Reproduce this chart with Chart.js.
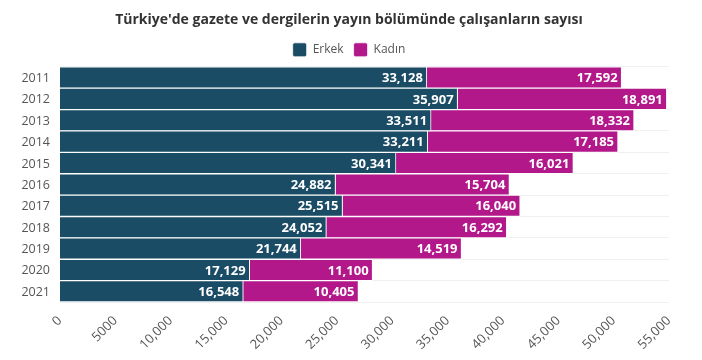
<!DOCTYPE html>
<html>
<head>
<meta charset="utf-8">
<script src="https://cdn.jsdelivr.net/npm/chart.js@4"></script>
<style>
  html, body { margin: 0; padding: 0; background: #fff; }
  #wrap { width: 702px; height: 360px; }
</style>
</head>
<body>
<div id="wrap"><canvas id="bar-chart"></canvas></div>
<script>
const years = ["2011","2012","2013","2014","2015","2016","2017","2018","2019","2020","2021"];
const erkek = [33128,35907,33511,33211,30341,24882,25515,24052,21744,17129,16548];
const kadin = [17592,18891,18332,17185,16021,15704,16040,16292,14519,11100,10405];
const xTicks = [0,5000,10000,15000,20000,25000,30000,35000,40000,45000,50000,55000];

const fmt = v => v >= 10000 ? v.toLocaleString("en-US") : String(v);

// etiketler: barin icinde, sag uca yakin + yil etiketleri
const barLabels = {
  id: "barLabels",
  afterDatasetsDraw(chart) {
    const ctx = chart.ctx;
    ctx.save();
    ctx.font = "bold 13px 'Open Sans'";
    ctx.fillStyle = "#fff";
    ctx.textAlign = "right";
    ctx.textBaseline = "middle";
    chart.data.datasets.forEach((ds, i) => {
      chart.getDatasetMeta(i).data.forEach((bar, j) => {
        ctx.fillText(ds.data[j].toLocaleString("en-US"), bar.x - 4, bar.y + 1);
      });
    });
    const y = chart.scales.y;
    ctx.font = "12.5px 'Open Sans'";
    ctx.fillStyle = "#555";
    years.forEach((yr, i) => {
      ctx.fillText(yr, chart.chartArea.left - 10, y.getPixelForTick(i) + 1);
    });
    ctx.restore();
  }
};

const contenedor = document.querySelector("#bar-chart").getContext("2d");

const barchart = new Chart(contenedor, {
  type: "bar",
  data: {
    labels: years,
    datasets: [
      { label: "Erkek", data: erkek, backgroundColor: "#1b4c65", borderColor: "#fff", borderWidth: {top:1,bottom:1,right:1}, borderSkipped: false },
      { label: "Kadın", data: kadin, backgroundColor: "#b3188a", borderColor: "#fff", borderWidth: {top:1,bottom:1,right:1}, borderSkipped: false }
    ]
  },
  options: {
    indexAxis: "y",
    responsive: true,
    maintainAspectRatio: false,
    animation: false,
    layout: { padding: { left: 29, right: 33, top: 4, bottom: 0 } },
    datasets: { bar: { barPercentage: 1, categoryPercentage: 1 } },
    plugins: {
      title: {
        display: true,
        text: "Türkiye'de gazete ve dergilerin yayın bölümünde çalışanların sayısı",
        color: "#333",
        font: { family: "'Open Sans'", size: 14, weight: "bold" },
        padding: { top: 8, bottom: 4 }
      },
      legend: {
        labels: {
          boxWidth: 14, boxHeight: 14, color: "#555",
          useBorderRadius: true, borderRadius: 2,
          font: { family: "'Open Sans'", size: 12 },
          padding: 10
        }
      },
      tooltip: { enabled: false }
    },
    scales: {
      x: {
        stacked: true,
        min: 0, max: 55000,
        afterBuildTicks: s => { s.ticks = xTicks.map(v => ({ value: v })); },
        ticks: {
          minRotation: 45, maxRotation: 45,
          color: "#555",
          font: { family: "'Open Sans'", size: 13 },
          callback: v => fmt(v)
        },
        grid: { display: false },
        border: { display: false },
        afterFit: s => { s.height = 58; }
      },
      y: {
        stacked: true,
        ticks: { display: false },
        grid: { color: "#f0f0f0", drawTicks: false },
        border: { display: false },
        afterFit: s => { s.width = 31; }
      }
    }
  },
  plugins: [barLabels]
});
</script>
</body>
</html>
